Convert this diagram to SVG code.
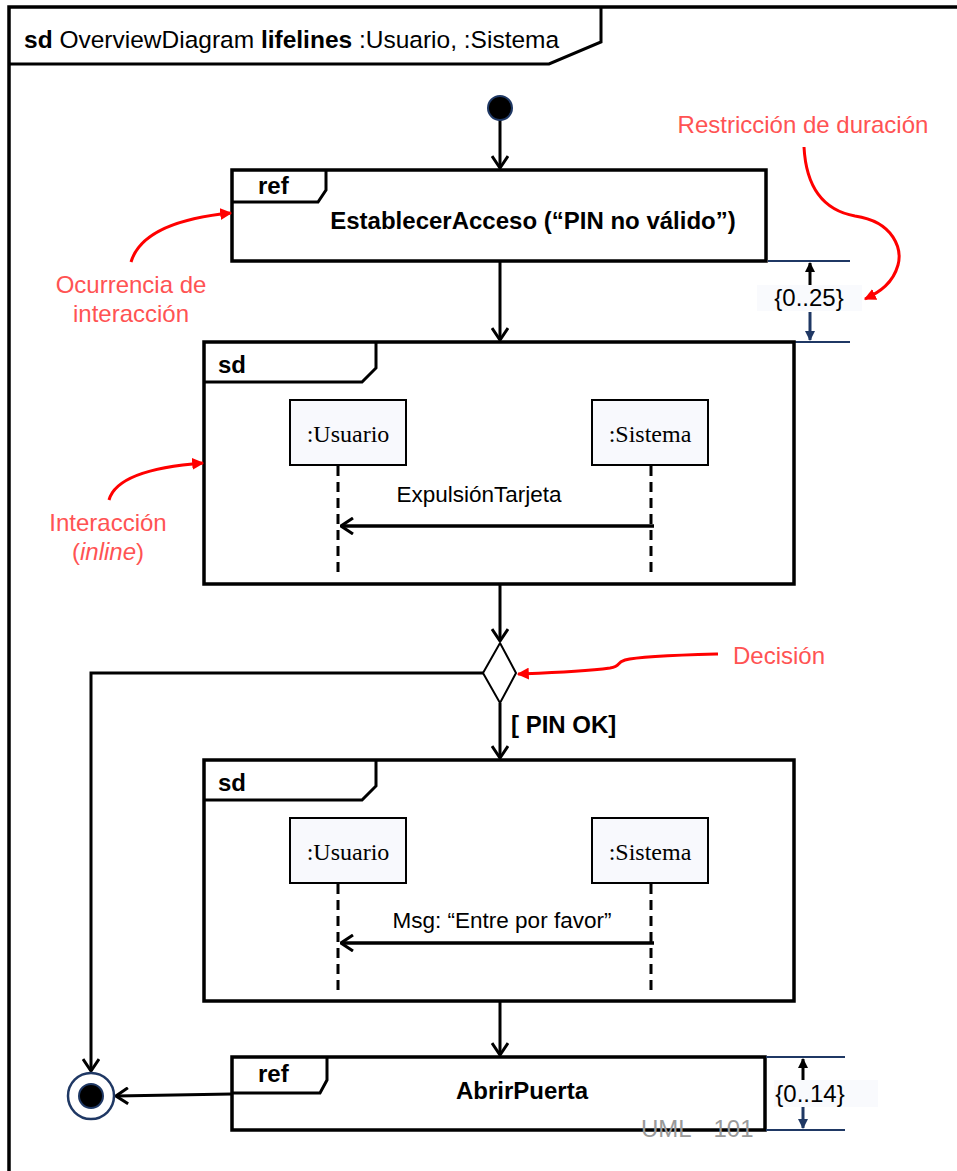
<svg xmlns="http://www.w3.org/2000/svg" width="957" height="1171" viewBox="0 0 957 1171">
<style>
text{font-family:"Liberation Sans",Arial,sans-serif;font-size:24px;fill:#000}
.b{font-weight:bold}
.hdr{font-size:24.5px}
.serif{font-family:"Liberation Serif","Times New Roman",serif;font-size:24px}
.msg{font-size:22.5px}
.note{fill:#ff5353}
.box{fill:#fff;stroke:#000;stroke-width:3.5}
.tab{fill:none;stroke:#000;stroke-width:3}
.flow{fill:none;stroke:#000;stroke-width:3;marker-end:url(#open)}
.mflow{fill:none;stroke:#000;stroke-width:3.5;marker-end:url(#open)}
.life{fill:#f8f9fd;stroke:#000;stroke-width:2}
.dash{stroke:#000;stroke-width:3;stroke-dasharray:10,6}
.red{fill:none;stroke:#ff0000;stroke-width:3;marker-end:url(#redhead)}
.navy{stroke:#1f3864;stroke-width:2}
.dbg{fill:#f9fafd}
</style>
<defs>
<marker id="open" viewBox="0 0 14 18" refX="13" refY="9" markerWidth="14" markerHeight="18" markerUnits="userSpaceOnUse" orient="auto">
<path d="M1,1 L13,9 L1,17" fill="none" stroke="#000" stroke-width="3"/>
</marker>
<marker id="redhead" viewBox="0 0 10 10" refX="9" refY="5" markerWidth="12" markerHeight="12" markerUnits="userSpaceOnUse" orient="auto">
<path d="M0,0 L10,5 L0,10 Z" fill="#ff0000"/>
</marker>
<marker id="blk" viewBox="0 0 10 10" refX="9" refY="5" markerWidth="10" markerHeight="10" markerUnits="userSpaceOnUse" orient="auto">
<path d="M0,0 L10,5 L0,10 Z" fill="#000"/>
</marker>
<marker id="nv" viewBox="0 0 10 10" refX="9" refY="5" markerWidth="10" markerHeight="10" markerUnits="userSpaceOnUse" orient="auto">
<path d="M0,0 L10,5 L0,10 Z" fill="#1f3864"/>
</marker>
</defs>

<g id="frame">
<path d="M9,1171 L9,7 L957,7" fill="none" stroke="#000" stroke-width="3.5"/>
<path d="M9,64 L549,64 L601,42 L601,7" fill="none" stroke="#000" stroke-width="3"/>
<text class="hdr" x="24" y="48"><tspan class="b">sd</tspan> OverviewDiagram <tspan class="b">lifelines</tspan> :Usuario, :Sistema</text>
</g>

<g id="connectors">
<path class="flow" d="M500,120 L500,168"/>
<path class="flow" d="M500,261 L500,340"/>
<path class="flow" d="M500,584 L500,641"/>
<path class="flow" d="M483,673 L91,673 L91,1071"/>
<path class="flow" d="M500,703 L500,758"/>
<path class="flow" d="M500,1001 L500,1055"/>
<path class="flow" d="M232,1094 L116,1096"/>
</g>

<g id="initial">
<circle cx="500" cy="108" r="12" fill="#000" stroke="#1f3864" stroke-width="2"/>
</g>

<g id="ref1">
<rect class="box" x="232" y="170" width="534" height="91"/>
<path class="tab" d="M232,202 L318,202 L326,190 L326,170"/>
<text class="b" x="258" y="194">ref</text>
<text class="b" x="533" y="229" text-anchor="middle" font-size="24.3">EstablecerAcceso (“PIN no válido”)</text>
</g>

<g id="duration1">
<line class="navy" x1="768" y1="261" x2="850" y2="261"/>
<line class="navy" x1="768" y1="342" x2="850" y2="342"/>
<rect class="dbg" x="757" y="285" width="105" height="26"/>
<line x1="810" y1="285" x2="810" y2="263" stroke="#000" stroke-width="3" marker-end="url(#blk)"/>
<line x1="810" y1="312" x2="810" y2="340" stroke="#1f3864" stroke-width="3" marker-end="url(#nv)"/>
<text x="809" y="306" text-anchor="middle">{0..25}</text>
</g>

<g id="sd1">
<rect class="box" x="204" y="342" width="590" height="242"/>
<path class="tab" d="M204,382 L362,382 L376,368 L376,342"/>
<text class="b" x="218" y="373">sd</text>
<rect class="life" x="290" y="400" width="116" height="65"/>
<text class="serif" x="348" y="442" text-anchor="middle">:Usuario</text>
<rect class="life" x="592" y="400" width="116" height="65"/>
<text class="serif" x="650" y="442" text-anchor="middle">:Sistema</text>
<line class="dash" x1="338" y1="466" x2="338" y2="576"/>
<line class="dash" x1="651" y1="466" x2="651" y2="576"/>
<path class="mflow" d="M654,526 L341,526"/>
<text class="msg" x="479" y="502" text-anchor="middle">ExpulsiónTarjeta</text>
</g>

<g id="decision">
<path d="M500,643 L516,673 L500,703 L483,673 Z" fill="#fff" stroke="#000" stroke-width="2"/>
<text class="b" x="511" y="733">[ PIN OK]</text>
</g>

<g id="sd2">
<rect class="box" x="204" y="760" width="590" height="241"/>
<path class="tab" d="M204,800 L362,800 L376,786 L376,760"/>
<text class="b" x="218" y="791">sd</text>
<rect class="life" x="290" y="818" width="116" height="65"/>
<text class="serif" x="348" y="860" text-anchor="middle">:Usuario</text>
<rect class="life" x="592" y="818" width="116" height="65"/>
<text class="serif" x="650" y="860" text-anchor="middle">:Sistema</text>
<line class="dash" x1="338" y1="884" x2="338" y2="994"/>
<line class="dash" x1="651" y1="884" x2="651" y2="994"/>
<path class="mflow" d="M654,943 L341,943"/>
<text class="msg" x="502" y="928" text-anchor="middle">Msg: “Entre por favor”</text>
</g>

<g id="ref2">
<rect class="box" x="232" y="1057" width="533" height="73"/>
<path class="tab" d="M232,1093 L320,1093 L327,1080 L327,1057"/>
<text class="b" x="258" y="1082">ref</text>
<text class="b" x="522" y="1099" text-anchor="middle">AbrirPuerta</text>
<text x="641" y="1137" style="fill:#9a9a9a" word-spacing="16">UML 101</text>
</g>

<g id="duration2">
<line class="navy" x1="766" y1="1057" x2="845" y2="1057"/>
<line class="navy" x1="766" y1="1130" x2="845" y2="1130"/>
<rect class="dbg" x="774" y="1080" width="104" height="27"/>
<line x1="803" y1="1080" x2="803" y2="1059" stroke="#000" stroke-width="3" marker-end="url(#blk)"/>
<line x1="803" y1="1107" x2="803" y2="1128" stroke="#1f3864" stroke-width="3" marker-end="url(#nv)"/>
<text x="810" y="1102" text-anchor="middle">{0..14}</text>
</g>

<g id="final">
<circle cx="91" cy="1096" r="23" fill="#fff" stroke="#1f3864" stroke-width="2.5"/>
<circle cx="91" cy="1096" r="12" fill="#000" stroke="#1f3864" stroke-width="2"/>
</g>

<g id="annotations">
<text class="note" x="803" y="133" text-anchor="middle">Restricción de duración</text>
<path class="red" d="M804,147 C806,185 822,210 855,216 C895,222 902,250 898,265 C893,283 880,292 865,299"/>
<text class="note" x="131" y="293" text-anchor="middle">Ocurrencia de</text>
<text class="note" x="131" y="322" text-anchor="middle">interacción</text>
<path class="red" d="M131,262 C140,232 180,218 231,213"/>
<text class="note" x="108" y="531" text-anchor="middle">Interacción</text>
<text class="note" x="108" y="560" text-anchor="middle">(<tspan font-style="italic">inline</tspan>)</text>
<path class="red" d="M109,500 C115,478 150,467 203,463"/>
<text class="note" x="733" y="664">Decisión</text>
<path class="red" d="M718,654 C680,655 640,656 625,660 C615,663 622,666 610,668 C580,672 545,673 518,674"/>
</g>
</svg>
